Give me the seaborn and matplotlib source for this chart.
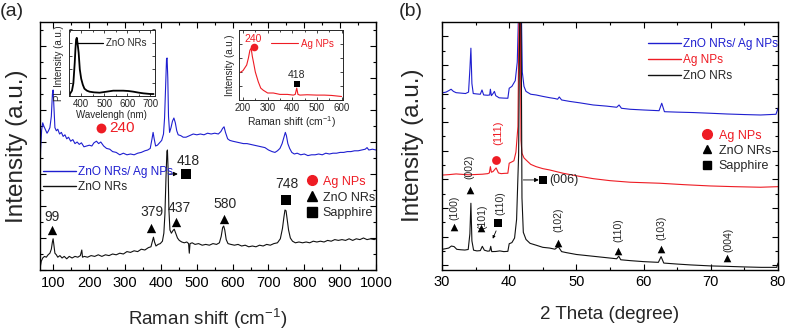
import matplotlib
matplotlib.use('Agg')
import matplotlib.pyplot as plt
import seaborn as sns
from matplotlib.lines import Line2D
from matplotlib.ticker import MultipleLocator, FixedLocator, NullFormatter

# ---------------- Panel (a): Raman spectra ----------------
raman_zno_x = [62, 64, 66, 70, 75, 80, 85, 90, 94, 97, 99, 101, 104, 108, 112, 118, 124, 130, 137, 144,
               152, 160, 168, 175, 179, 181, 186, 195, 205, 215, 225, 235, 245, 255, 265, 275, 285, 295,
               305, 315, 325, 335, 345, 355, 365, 372, 376, 379, 382, 386, 392, 398, 404, 408, 411, 414,
               416.5, 418, 420, 422, 425, 429, 433, 437, 441, 446, 451, 458, 465, 472, 477, 479, 481, 487,
               495, 505, 515, 525, 535, 545, 555, 563, 568, 572, 575, 578, 582, 587, 595, 605, 615, 625,
               635, 645, 655, 665, 675, 685, 695, 705, 715, 725, 733, 739, 743, 746, 749, 752, 756, 761,
               767, 775, 785, 795, 805, 815, 825, 835, 845, 855, 865, 875, 885, 895, 905, 915, 925, 935,
               945, 955, 965, 975, 985, 995, 1000]
raman_zno_y = [0.0, 0.3, 0.55, 0.75, 0.85, 0.8, 0.95, 1.05, 1.3, 1.75, 1.95, 1.6, 1.05, 0.95, 0.8, 0.9, 0.75,
               0.85, 0.7, 0.85, 0.75, 0.85, 0.8, 0.9, 1.25, 0.8, 0.85, 0.8, 0.9, 0.85, 0.95, 0.85, 0.95, 0.9,
               1.0, 0.95, 1.05, 1.0, 1.15, 1.1, 1.2, 1.15, 1.3, 1.25, 1.4, 1.45, 1.8, 2.05, 1.75, 1.5, 1.6,
               1.65, 1.8, 2.3, 3.5, 5.8, 7.4, 7.5, 6.2, 3.8, 2.5, 2.3, 2.45, 2.55, 2.3, 2.0, 1.85, 1.75, 1.7,
               1.75, 1.65, 1.05, 1.65, 1.7, 1.6, 1.65, 1.55, 1.6, 1.55, 1.65, 1.6, 1.7, 2.1, 2.65, 2.75, 2.5,
               1.9, 1.65, 1.6, 1.55, 1.6, 1.5, 1.55, 1.45, 1.5, 1.45, 1.55, 1.5, 1.6, 1.55, 1.65, 1.7, 1.95,
               2.6, 3.3, 3.75, 3.7, 3.2, 2.5, 2.0, 1.8, 1.7, 1.75, 1.7, 1.75, 1.7, 1.8, 1.75, 1.8, 1.75, 1.85,
               1.8, 1.9, 1.85, 1.9, 1.85, 1.95, 1.85, 1.95, 1.9, 2.0, 1.9, 1.95, 1.9, 1.95]

raman_znoag_x = [62, 64, 67, 70, 73, 77, 82, 86, 90, 94, 97, 99, 101, 104, 108, 112, 117, 122, 127, 132, 137,
                 142, 148, 154, 160, 166, 172, 178, 185, 192, 200, 207, 213, 220, 226, 232, 240, 248, 257,
                 265, 275, 285, 295, 305, 315, 325, 335, 345, 355, 363, 370, 375, 378, 381, 385, 390, 396,
                 402, 407, 410, 413, 415.5, 417, 419, 421, 424, 428, 432, 436, 440, 444, 448, 455, 462, 470,
                 480, 490, 500, 510, 520, 530, 540, 550, 560, 567, 572, 576, 580, 586, 592, 600, 610, 620,
                 630, 640, 650, 660, 670, 680, 690, 700, 710, 718, 725, 732, 738, 743, 747, 750, 754, 759,
                 765, 772, 780, 790, 800, 810, 820, 830, 840, 850, 860, 870, 880, 890, 900, 910, 920, 930,
                 940, 950, 960, 970, 975, 980, 990, 1000]
raman_znoag_y = [5.6, 7.5, 8.75, 9.2, 9.0, 8.8, 8.55, 8.7, 8.9, 9.6, 11.0, 11.25, 10.3, 8.9, 8.7, 8.8, 8.5,
                 8.6, 8.35, 8.45, 8.2, 8.3, 8.05, 8.15, 7.9, 8.0, 7.85, 7.95, 7.7, 7.75, 7.8, 7.75, 7.95,
                 8.05, 7.9, 8.0, 7.75, 7.6, 7.55, 7.4, 7.35, 7.2, 7.3, 7.2, 7.25, 7.2, 7.3, 7.35, 7.45, 7.5,
                 7.6, 8.2, 8.6, 8.2, 7.75, 7.8, 7.95, 8.1, 8.5, 9.5, 11.5, 13.2, 13.25, 12.0, 9.6, 8.6, 8.9,
                 9.3, 9.5, 9.2, 8.7, 8.45, 8.4, 8.3, 8.3, 8.4, 8.5, 8.45, 8.5, 8.45, 8.55, 8.5, 8.55, 8.5,
                 8.65, 8.85, 8.95, 8.6, 8.2, 8.1, 8.05, 8.0, 7.95, 7.9, 7.9, 7.85, 7.8, 7.75, 7.7, 7.65, 7.5,
                 7.4, 7.35, 7.45, 7.6, 7.9, 8.3, 8.6, 8.4, 7.9, 7.6, 7.35, 7.25, 7.3, 7.2, 7.25, 7.15, 7.2,
                 7.2, 7.25, 7.2, 7.3, 7.25, 7.3, 7.3, 7.35, 7.35, 7.4, 7.4, 7.45, 7.45, 7.5, 7.55, 7.65, 7.5,
                 7.55, 7.5]

# PL inset (ZnO NRs)
pl_wavelength = [349, 360, 366, 372, 375, 378, 381, 384, 389, 394, 400, 407, 414, 425, 436, 455, 480, 510,
                 539, 560, 582, 605, 626, 650, 670, 700, 714]
pl_intensity = [0.02, 0.08, 0.19, 0.5, 0.7, 0.85, 0.875, 0.8, 0.65, 0.4, 0.26, 0.17, 0.11, 0.08, 0.065, 0.055,
                0.05, 0.065, 0.08, 0.08, 0.08, 0.075, 0.065, 0.05, 0.04, 0.03, 0.03]

# Raman inset (Ag NPs)
ag_raman_x = [187, 200, 215, 222, 228, 233, 238, 242, 250, 262, 272, 282, 300, 323, 350, 380, 404, 412, 418,
              423, 431, 460, 499, 530, 560, 600]
ag_raman_y = [0.39, 0.42, 0.5, 0.6, 0.71, 0.74, 0.62, 0.55, 0.4, 0.26, 0.17, 0.14, 0.1, 0.1, 0.08, 0.08,
              0.07, 0.08, 0.17, 0.08, 0.07, 0.075, 0.07, 0.07, 0.065, 0.05]

# Peak annotations, panel (a)
zno_peak_labels_a = ['99', '379', '437', '580']
zno_peak_x_a = [97, 373, 441, 575]
zno_marker_y_a = [2.5, 2.6, 3.0, 3.2]
zno_label_x_a = [97, 376, 451, 580]
zno_label_y_a = [3.3, 3.6, 3.9, 4.1]

# ---------------- Panel (b): XRD patterns ----------------
xrd_zno_x = [30.0, 30.5, 31.0, 31.4, 31.8, 32.2, 32.8, 33.4, 33.9, 34.15, 34.3, 34.45, 34.7, 35.2, 35.7, 36.0,
             36.3, 36.8, 37.1, 37.25, 37.4, 38.0, 38.6, 39.2, 39.8, 40.0, 40.4, 40.8, 41.1, 41.4, 41.6, 41.75,
             41.9, 42.1, 42.5, 43.1, 44.0, 45.0, 46.0, 46.8, 47.3, 47.8, 48.5, 50.0, 52.0, 54.0, 56.0, 56.3,
             56.6, 58.0, 60.0, 62.2, 62.6, 63.0, 65.0, 67.0, 70.0, 72.4, 75.0, 77.5, 79.8, 80.0]
xrd_zno_y = [1.41, 1.45, 1.5, 1.64, 1.6, 1.41, 1.38, 1.36, 1.4, 2.5, 4.63, 2.0, 1.35, 1.3, 1.32, 1.62, 1.35,
             1.28, 1.3, 1.62, 1.25, 1.26, 1.3, 1.25, 1.27, 1.8, 1.88, 2.2, 3.5, 8.0, 20.0, 20.0, 5.0, 2.6, 2.1,
             1.83, 1.7, 1.55, 1.5, 1.42, 1.6, 1.25, 1.18, 1.05, 0.95, 0.85, 0.75, 0.93, 0.68, 0.62, 0.55, 0.5,
             0.9, 0.45, 0.38, 0.32, 0.25, 0.22, 0.18, 0.15, 0.15, 0.45]

xrd_ag_x = [30.0, 31.0, 32.1, 33.0, 34.0, 35.0, 36.0, 36.8, 37.05, 37.2, 37.35, 37.6, 38.05, 38.4, 38.8, 39.3,
            39.8, 40.0, 40.3, 40.7, 41.0, 41.3, 41.5, 41.65, 41.75, 41.9, 42.2, 42.5, 43.2, 44.0, 45.0, 46.0,
            48.0, 50.0, 52.5, 55.0, 58.0, 62.4, 66.0, 69.9, 73.5, 77.4, 80.0]
xrd_ag_y = [6.6, 6.63, 6.68, 6.65, 6.62, 6.64, 6.66, 6.7, 6.75, 7.19, 6.8, 6.85, 7.1, 6.75, 6.7, 6.72, 6.73,
            7.43, 7.5, 7.6, 8.2, 10.0, 20.0, 20.0, 9.06, 8.13, 7.8, 7.66, 7.35, 7.19, 7.05, 6.96, 6.73, 6.55,
            6.35, 6.21, 6.1, 6.03, 5.93, 5.84, 5.79, 5.75, 5.79]

xrd_znoag_x = [30.0, 30.6, 31.0, 31.35, 31.7, 32.1, 32.8, 33.5, 33.95, 34.15, 34.3, 34.45, 34.65, 35.2, 35.7,
               35.95, 36.2, 36.8, 37.1, 37.2, 37.35, 37.6, 37.8, 38.0, 38.5, 39.2, 39.8, 40.0, 40.4, 40.9,
               41.2, 41.5, 41.75, 41.95, 42.2, 42.5, 43.2, 44.0, 45.0, 46.0, 46.8, 47.2, 47.45, 47.8, 49.0,
               50.5, 52.5, 54.5, 56.0, 56.35, 56.7, 58.0, 60.0, 62.3, 62.7, 63.1, 65.0, 67.4, 70.0, 72.4,
               75.0, 77.4, 79.7, 80.0]
xrd_znoag_y = [12.34, 12.4, 12.5, 12.6, 12.45, 12.36, 12.33, 12.3, 12.4, 14.0, 15.47, 13.0, 12.3, 12.27,
               12.25, 12.55, 12.2, 12.18, 12.2, 12.6, 12.15, 12.3, 12.45, 12.15, 12.0, 11.98, 11.97, 12.67,
               12.8, 13.2, 14.5, 20.0, 20.0, 13.8, 12.8, 12.45, 12.25, 12.2, 12.1, 12.01, 11.95, 11.9, 12.06,
               11.85, 11.75, 11.65, 11.5, 11.42, 11.34, 11.5, 11.27, 11.2, 11.15, 11.1, 11.62, 11.03, 11.0,
               10.97, 10.92, 10.87, 10.83, 10.8, 10.85, 11.27]

# Peak annotations, panel (b)
zno_hkl_labels = ['(100)', '(002)', '(101)', '(102)', '(110)', '(103)', '(004)']
zno_hkl_marker_x = [31.8, 34.1, 35.8, 47.3, 56.2, 62.6, 72.4]
zno_hkl_marker_y = [2.95, 5.56, 2.88, 1.87, 1.29, 1.41, 0.78]
zno_hkl_label_x = [31.8, 34.1, 36.05, 47.3, 56.3, 62.7, 72.6]
zno_hkl_label_y = [4.28, 7.19, 3.69, 3.46, 2.76, 2.88, 2.06]

BLUE = '#1f1fd0'
RED = '#ee1c24'
BLACK = '#111111'

sns.set_style('ticks')
plt.rcParams['font.family'] = ['Liberation Sans', 'DejaVu Sans']
plt.rcParams['mathtext.fontset'] = 'custom'
plt.rcParams['mathtext.rm'] = 'Liberation Sans'

fig = plt.figure(figsize=(7.87, 3.3), dpi=100)
axa = fig.add_axes([39.5 / 787, 60 / 330, 336.5 / 787, 248 / 330])
axb = fig.add_axes([442 / 787, 60.5 / 330, 336 / 787, 247.5 / 330])


def style_main(ax):
    for s in ax.spines.values():
        s.set_linewidth(1.0)
        s.set_color('black')
    ax.tick_params(which='both', direction='in', top=True, right=True, width=0.8, colors='black',
                   labelsize=10.5, pad=4)
    ax.tick_params(which='major', length=4)
    ax.tick_params(which='minor', length=2.5)
    ax.yaxis.set_major_formatter(NullFormatter())
    ax.yaxis.set_minor_formatter(NullFormatter())


# ---- panel (a)
sns.lineplot(x=raman_znoag_x, y=raman_znoag_y, ax=axa, color=BLUE, lw=0.8, estimator=None)
sns.lineplot(x=raman_zno_x, y=raman_zno_y, ax=axa, color=BLACK, lw=0.8, estimator=None)
axa.set_xlim(61, 1000)
axa.set_ylim(0, 15.5)
axa.xaxis.set_major_locator(MultipleLocator(100))
axa.xaxis.set_minor_locator(MultipleLocator(50))
axa.yaxis.set_major_locator(MultipleLocator(2))
axa.yaxis.set_minor_locator(MultipleLocator(1))
style_main(axa)
axa.set_xlabel('Raman shift (cm$^{-1}$)', fontsize=13.5, labelpad=12)
axa.set_ylabel('Intensity (a.u.)', fontsize=17.5, labelpad=4)

axa.scatter(zno_peak_x_a, zno_marker_y_a, marker='^', s=45, color='black', zorder=5, lw=0)
for lab, lx, ly in zip(zno_peak_labels_a, zno_label_x_a, zno_label_y_a):
    axa.text(lx, ly, lab, ha='center', va='center', fontsize=10)
axa.scatter([750], [4.4], marker='s', s=45, color='black', zorder=5, lw=0)
axa.text(752, 5.4, '748', ha='center', va='center', fontsize=10)
axa.scatter([471], [6.0], marker='s', s=45, color='black', zorder=5, lw=0)
axa.text(475, 6.8, '418', ha='center', va='center', fontsize=10)
axa.annotate('', xy=(447, 6.0), xytext=(424, 6.0),
             arrowprops=dict(arrowstyle='-|>', color='black', lw=0.7, mutation_scale=6, shrinkA=0, shrinkB=0))
axa.scatter([232], [8.9], marker='o', s=50, color=RED, zorder=5, lw=0)
axa.text(255, 8.9, '240', ha='left', va='center', fontsize=11, color=RED)

leg_a = axa.legend(handles=[Line2D([], [], color=BLUE, lw=1.0), Line2D([], [], color=BLACK, lw=1.0)],
                   labels=['ZnO NRs/ Ag NPs', 'ZnO NRs'], loc='upper left', bbox_to_anchor=(0.0104, 0.42),
                   frameon=False, fontsize=8.5, handlelength=2.8, handletextpad=0.2, borderpad=0,
                   borderaxespad=0, labelspacing=0.3)
leg_a.get_texts()[0].set_color(BLUE)
axa.add_artist(leg_a)
mk_a = axa.legend(handles=[Line2D([], [], marker='o', color=RED, ls='none', ms=7),
                           Line2D([], [], marker='^', color='black', ls='none', ms=7),
                           Line2D([], [], marker='s', color='black', ls='none', ms=7)],
                  labels=['Ag NPs', 'ZnO NRs', 'Sapphire'], loc='upper left', bbox_to_anchor=(0.79, 0.38),
                  frameon=False, fontsize=9, handlelength=1.0, handletextpad=0.4, borderpad=0,
                  borderaxespad=0, labelspacing=0.3)
mk_a.get_texts()[0].set_color(RED)

# insets
ins1 = fig.add_axes([68.5 / 787, (330 - 96) / 330, 86.5 / 787, 66.5 / 330])
sns.lineplot(x=pl_wavelength, y=pl_intensity, ax=ins1, color='black', lw=1.3, estimator=None)
ins1.set_xlim(345, 720)
ins1.set_ylim(0, 1)
ins1.xaxis.set_major_locator(MultipleLocator(100))
ins1.xaxis.set_minor_locator(MultipleLocator(50))
ins1.yaxis.set_major_locator(MultipleLocator(0.2))
ins1.tick_params(which='both', direction='in', top=True, right=True, labelsize=7, pad=2, width=0.6)
ins1.tick_params(which='major', length=2.5)
ins1.tick_params(which='minor', length=1.5)
ins1.yaxis.set_major_formatter(NullFormatter())
ins1.set_xlabel('Wavelengh (nm)', fontsize=7, labelpad=1)
ins1.set_ylabel('PL Intensity (a.u.)', fontsize=7, labelpad=1)
for s in ins1.spines.values():
    s.set_linewidth(0.7)
ins1.legend(handles=[Line2D([], [], color='black', lw=0.9)], labels=['ZnO NRs'], loc='upper right',
            frameon=False, fontsize=7, handlelength=2.8, handletextpad=0.3, borderaxespad=0.5)

ins2 = fig.add_axes([239.3 / 787, (330 - 100) / 330, 103.5 / 787, 70 / 330])
sns.lineplot(x=ag_raman_x, y=ag_raman_y, ax=ins2, color=RED, lw=0.8, estimator=None)
ins2.set_xlim(185, 605)
ins2.set_ylim(0, 1)
ins2.xaxis.set_major_locator(MultipleLocator(100))
ins2.xaxis.set_minor_locator(MultipleLocator(50))
ins2.yaxis.set_major_locator(MultipleLocator(0.2))
ins2.tick_params(which='both', direction='in', top=True, right=True, labelsize=7, pad=2, width=0.6)
ins2.tick_params(which='major', length=2.5)
ins2.tick_params(which='minor', length=1.5)
ins2.yaxis.set_major_formatter(NullFormatter())
ins2.set_xlabel('Raman shift (cm$^{-1}$)', fontsize=7.5, labelpad=1)
ins2.set_ylabel('Intensity (a.u.)', fontsize=7, labelpad=1)
for s in ins2.spines.values():
    s.set_linewidth(0.7)
ins2.scatter([245], [0.76], marker='o', s=30, color=RED, lw=0, zorder=5)
ins2.text(240, 0.87, '240', ha='center', va='center', fontsize=7.5, color=RED)
ins2.scatter([420], [0.23], marker='s', s=22, color='black', lw=0, zorder=5)
ins2.text(417, 0.36, '418', ha='center', va='center', fontsize=7.5)
lg2 = ins2.legend(handles=[Line2D([], [], color=RED, lw=0.8)], labels=['Ag NPs'], loc='upper right',
                  frameon=False, fontsize=7, handlelength=2.8, handletextpad=0.3, borderaxespad=0.5)
lg2.get_texts()[0].set_color(RED)

# ---- panel (b)
sns.lineplot(x=xrd_znoag_x, y=xrd_znoag_y, ax=axb, color=BLUE, lw=0.8, estimator=None)
sns.lineplot(x=xrd_ag_x, y=xrd_ag_y, ax=axb, color=RED, lw=0.8, estimator=None)
sns.lineplot(x=xrd_zno_x, y=xrd_zno_y, ax=axb, color=BLACK, lw=0.8, estimator=None)
axb.set_xlim(30, 80)
axb.set_ylim(0, 17.3)
axb.xaxis.set_major_locator(MultipleLocator(10))
axb.xaxis.set_minor_locator(MultipleLocator(5))
axb.yaxis.set_major_locator(FixedLocator([0.3 + 2 * k for k in range(9)]))
axb.yaxis.set_minor_locator(FixedLocator([1.3 + 2 * k for k in range(8)]))
style_main(axb)
axb.set_xlabel('2 Theta (degree)', fontsize=13.5, labelpad=12)
axb.set_ylabel('Intensity (a.u.)', fontsize=17.5, labelpad=9)

axb.scatter(zno_hkl_marker_x, zno_hkl_marker_y, marker='^', s=30, color='black', lw=0, zorder=5)
for lab, lx, ly in zip(zno_hkl_labels, zno_hkl_label_x, zno_hkl_label_y):
    axb.text(lx, ly, lab, rotation=90, ha='center', va='center', fontsize=7.5)
axb.scatter([38.3], [3.23], marker='s', s=40, color='black', lw=0, zorder=5)
axb.text(38.65, 4.63, '(110)', rotation=90, ha='center', va='center', fontsize=7.5)
axb.annotate('', xy=(37.55, 2.15), xytext=(38.05, 2.7),
             arrowprops=dict(arrowstyle='-|>', color='black', lw=0.6, mutation_scale=4, shrinkA=0, shrinkB=0))
axb.scatter([45.07], [6.26], marker='s', s=40, color='black', lw=0, zorder=5)
axb.annotate('', xy=(44.4, 6.26), xytext=(42.1, 6.26),
             arrowprops=dict(arrowstyle='-|>', color='black', lw=0.6, mutation_scale=6, shrinkA=0, shrinkB=0))
axb.text(45.9, 6.26, '(006)', ha='left', va='center', fontsize=9)
axb.scatter([38.04], [7.66], marker='o', s=40, color=RED, lw=0, zorder=5)
axb.text(38.35, 9.55, '(111)', rotation=90, ha='center', va='center', fontsize=8, color=RED)

leg_b = axb.legend(handles=[Line2D([], [], color=BLUE, lw=1.0), Line2D([], [], color=RED, lw=1.0),
                            Line2D([], [], color=BLACK, lw=1.0)],
                   labels=['ZnO NRs/ Ag NPs', 'Ag NPs', 'ZnO NRs'], loc='upper left',
                   bbox_to_anchor=(0.613, 0.935), frameon=False, fontsize=8.5, handlelength=2.8,
                   handletextpad=0.2, borderpad=0, borderaxespad=0, labelspacing=0.35)
leg_b.get_texts()[0].set_color(BLUE)
leg_b.get_texts()[1].set_color(RED)
axb.add_artist(leg_b)
mk_b = axb.legend(handles=[Line2D([], [], marker='o', color=RED, ls='none', ms=7),
                           Line2D([], [], marker='^', color='black', ls='none', ms=6),
                           Line2D([], [], marker='s', color='black', ls='none', ms=6)],
                  labels=['Ag NPs', 'ZnO NRs', 'Sapphire'], loc='upper left', bbox_to_anchor=(0.771, 0.565),
                  frameon=False, fontsize=9, handlelength=1.0, handletextpad=0.4, borderpad=0,
                  borderaxespad=0, labelspacing=0.25)
mk_b.get_texts()[0].set_color(RED)

fig.text(12 / 787, 1 - 12 / 330, '(a)', ha='center', va='center', fontsize=14)
fig.text(411 / 787, 1 - 12 / 330, '(b)', ha='center', va='center', fontsize=14)

fig.savefig('out.png', dpi=100)
